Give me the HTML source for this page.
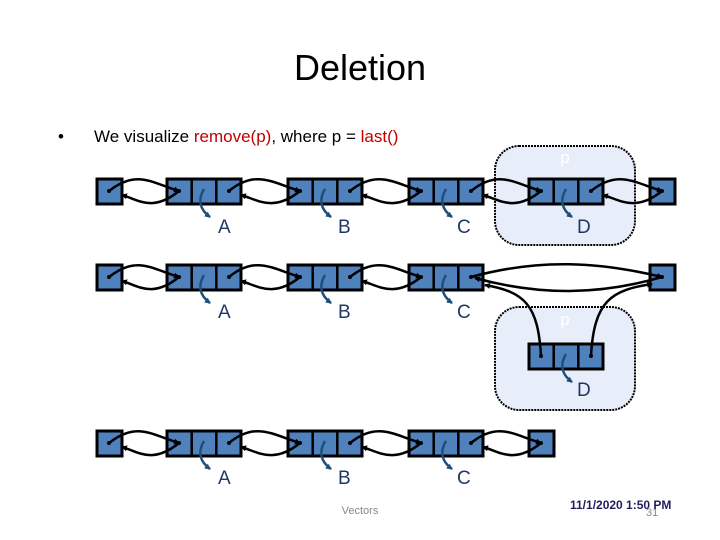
<!DOCTYPE html>
<html><head><meta charset="utf-8"><style>
html,body{margin:0;padding:0;background:#fff;}
svg{display:block;font-family:"Liberation Sans",sans-serif;}
</style></head><body>
<svg width="720" height="540" viewBox="0 0 720 540" xmlns="http://www.w3.org/2000/svg">
<defs>
<marker id="ah" markerWidth="6" markerHeight="6" refX="5" refY="3" orient="auto" markerUnits="userSpaceOnUse"><path d="M0,0 L6,3 L0,6 z" fill="#000"/></marker>
<marker id="bh" markerWidth="6" markerHeight="6" refX="5" refY="3" orient="auto" markerUnits="userSpaceOnUse"><path d="M0,0 L6,3 L0,6 z" fill="#1f4e79"/></marker>
<g id="box3"><rect x="0" y="0" width="74" height="25" fill="#4f81bd" stroke="#000" stroke-width="3"/><line x1="24.7" y1="0" x2="24.7" y2="25" stroke="#000" stroke-width="2.5"/><line x1="49.3" y1="0" x2="49.3" y2="25" stroke="#000" stroke-width="2.5"/></g>
<g id="box1"><rect x="0" y="0" width="25" height="25" fill="#4f81bd" stroke="#000" stroke-width="3"/></g>
<g id="lk" fill="none" stroke="#000" stroke-width="2.5">
<path d="M109 191 C137 169 152 183 179 191" marker-end="url(#ah)"/><path d="M179 191 C152 213 137 199 122 195" marker-end="url(#ah)"/>
<path d="M229 191 C256 169 273 183 300 191" marker-end="url(#ah)"/><path d="M300 191 C273 213 256 199 241 195" marker-end="url(#ah)"/>
<path d="M350 191 C377 169 394 183 421 191" marker-end="url(#ah)"/><path d="M421 191 C394 213 377 199 362 195" marker-end="url(#ah)"/>
</g>
<g id="lk4" fill="none" stroke="#000" stroke-width="2.5">
<path d="M471 191 C498 169 514 183 541 191" marker-end="url(#ah)"/><path d="M541 191 C514 213 498 199 483 195" marker-end="url(#ah)"/>
</g>
<g id="el" fill="none" stroke="#1f4e79" stroke-width="2.5"><path d="M0 0 C-6 10 -5 20 6 28" marker-end="url(#bh)"/></g>
</defs>
<text x="360" y="80" font-size="36" text-anchor="middle" fill="#000">Deletion</text>
<text x="58" y="142" font-size="17" fill="#000">•</text>
<text x="94" y="142" font-size="17" fill="#000">We visualize <tspan fill="#c00000">remove(p)</tspan>, where p = <tspan fill="#c00000">last()</tspan></text>

<!-- p boxes -->
<rect x="495" y="146" width="140" height="99" rx="24" fill="#e8eef9" stroke="#000" stroke-width="2" stroke-dasharray="2 1"/>
<text x="565" y="163" font-size="17" fill="#fff" text-anchor="middle">p</text>
<rect x="495" y="307" width="140" height="103" rx="24" fill="#e8eef9" stroke="#000" stroke-width="2" stroke-dasharray="2 1"/>
<text x="565" y="325" font-size="17" fill="#fff" text-anchor="middle">p</text>

<!-- Row 1 -->
<use href="#box1" x="97" y="179"/><use href="#box3" x="167" y="179"/><use href="#box3" x="288" y="179"/><use href="#box3" x="409" y="179"/><use href="#box3" x="529" y="179"/><use href="#box1" x="650" y="179"/>
<use href="#lk"/><use href="#lk4"/>
<g fill="none" stroke="#000" stroke-width="2.5"><path d="M591 191 C618 169 635 183 662 191" marker-end="url(#ah)"/><path d="M662 191 C635 213 618 199 603 195" marker-end="url(#ah)"/></g>

<!-- Row 2 -->
<use href="#box1" x="97" y="265"/><use href="#box3" x="167" y="265"/><use href="#box3" x="288" y="265"/><use href="#box3" x="409" y="265"/><use href="#box1" x="650" y="265"/>
<use href="#box3" x="529" y="344"/>
<g transform="translate(0,86)"><use href="#lk"/></g>
<g fill="none" stroke="#000" stroke-width="2.5">
<path d="M471 277 C540 258 600 262 662 277" marker-end="url(#ah)"/>
<path d="M662 277 C600 295 540 296 475 278" marker-end="url(#ah)"/>
<path d="M541 356 C538 305 525 292 485 285" marker-end="url(#ah)"/>
<path d="M591 356 C594 300 612 290 652 284" marker-end="url(#ah)"/>
</g>

<!-- Row 3 -->
<use href="#box1" x="97" y="431"/><use href="#box3" x="167" y="431"/><use href="#box3" x="288" y="431"/><use href="#box3" x="409" y="431"/><use href="#box1" x="529" y="431"/>
<g transform="translate(0,252)"><use href="#lk"/><use href="#lk4"/></g>

<!-- dots -->
<g fill="#000">
<circle cx="109" cy="191" r="2"/><circle cx="179" cy="191" r="2"/><circle cx="229" cy="191" r="2"/><circle cx="300" cy="191" r="2"/><circle cx="350" cy="191" r="2"/><circle cx="421" cy="191" r="2"/><circle cx="471" cy="191" r="2"/><circle cx="541" cy="191" r="2"/><circle cx="591" cy="191" r="2"/><circle cx="662" cy="191" r="2"/>
<circle cx="109" cy="277" r="2"/><circle cx="179" cy="277" r="2"/><circle cx="229" cy="277" r="2"/><circle cx="300" cy="277" r="2"/><circle cx="350" cy="277" r="2"/><circle cx="421" cy="277" r="2"/><circle cx="471" cy="277" r="2"/><circle cx="662" cy="277" r="2"/><circle cx="541" cy="356" r="2"/><circle cx="591" cy="356" r="2"/>
<circle cx="109" cy="443" r="2"/><circle cx="179" cy="443" r="2"/><circle cx="229" cy="443" r="2"/><circle cx="300" cy="443" r="2"/><circle cx="350" cy="443" r="2"/><circle cx="421" cy="443" r="2"/><circle cx="471" cy="443" r="2"/><circle cx="541" cy="443" r="2"/>
</g>

<!-- element pointers -->
<use href="#el" x="204" y="189"/><use href="#el" x="325" y="189"/><use href="#el" x="446" y="189"/><use href="#el" x="566" y="189"/>
<use href="#el" x="204" y="275"/><use href="#el" x="325" y="275"/><use href="#el" x="446" y="275"/><use href="#el" x="566" y="354"/>
<use href="#el" x="204" y="441"/><use href="#el" x="325" y="441"/><use href="#el" x="446" y="441"/>

<g font-size="19" fill="#1f3864">
<text x="218" y="233">A</text><text x="338" y="233">B</text><text x="457" y="233">C</text><text x="577" y="233">D</text>
<text x="218" y="318">A</text><text x="338" y="318">B</text><text x="457" y="318">C</text><text x="577" y="396">D</text>
<text x="218" y="484">A</text><text x="338" y="484">B</text><text x="457" y="484">C</text>
</g>

<text x="360" y="514" font-size="11" fill="#888" text-anchor="middle">Vectors</text>
<text x="646" y="516" font-size="11" fill="#888">31</text>
<text x="570" y="509" font-size="12" font-weight="bold" fill="#1f1f5f">11/1/2020 1:50 PM</text>
</svg>
</body></html>
